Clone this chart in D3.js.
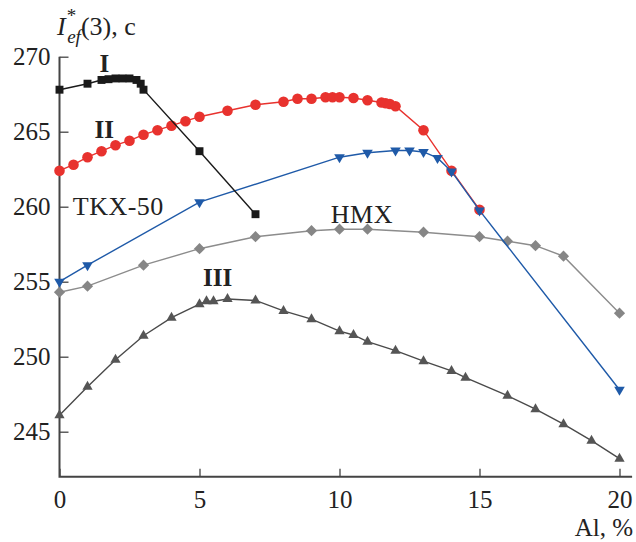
<!DOCTYPE html>
<html>
<head>
<meta charset="utf-8">
<script src="https://cdn.jsdelivr.net/npm/d3@7"></script>
<style>
  body { margin: 0; background: #fff; }
  text { font-family: "Liberation Serif", "DejaVu Serif", serif; fill: #222; }
</style>
</head>
<body>
<div id="container"></div>
<script>
// Data: Al content (%) and I_ef*(3), s.
const xI = [0, 1, 1.5, 1.75, 2, 2.25, 2.5, 2.75, 2.9, 3, 5, 7];
const yI = [267.8, 268.2, 268.45, 268.5, 268.55, 268.55, 268.55, 268.45, 268.2, 267.8, 263.7, 259.5];

const xII = [0, 0.5, 1, 1.5, 2, 2.5, 3, 3.5, 4, 4.5, 5, 6, 7, 8, 8.5, 9, 9.5, 9.75, 10, 10.5, 11, 11.5, 11.65, 11.8, 12, 13, 14, 15];
const yII = [262.4, 262.8, 263.3, 263.7, 264.1, 264.4, 264.8, 265.1, 265.4, 265.7, 266.0, 266.4, 266.8, 267.0, 267.2, 267.2, 267.3, 267.3, 267.3, 267.25, 267.1, 266.95, 266.9, 266.85, 266.7, 265.1, 262.4, 259.8];

const xTKX = [0, 1, 5, 10, 11, 12, 12.5, 13, 13.5, 14, 15, 20];
const yTKX = [255.0, 256.1, 260.3, 263.3, 263.6, 263.75, 263.75, 263.65, 263.25, 262.35, 259.75, 247.8];

const xHMX = [0, 1, 3, 5, 7, 9, 10, 11, 13, 15, 16, 17, 18, 20];
const yHMX = [254.3, 254.7, 256.1, 257.2, 258.0, 258.4, 258.5, 258.5, 258.3, 258.0, 257.7, 257.4, 256.7, 252.9];

const xIII = [0, 1, 2, 3, 4, 5, 5.25, 5.5, 6, 7, 8, 9, 10, 10.5, 11, 12, 13, 14, 14.5, 16, 17, 18, 19, 20];
const yIII = [246.1, 248.0, 249.8, 251.4, 252.6, 253.5, 253.7, 253.7, 253.85, 253.75, 253.05, 252.5, 251.7, 251.45, 251.0, 250.4, 249.7, 249.05, 248.6, 247.4, 246.5, 245.5, 244.4, 243.2];

const xTicks = [0, 5, 10, 15, 20];
const yTicks = [245, 250, 255, 260, 265, 270];

const width = 636, height = 542;

const svg = d3.select('#container')
  .append('svg')
  .attr('width', width)
  .attr('height', height);

// Scales.
const x = d3.scaleLinear().domain([0, 20]).range([59.5, 619.5]);
const y = d3.scaleLinear().domain([242, 270]).range([476.7, 56.7]);

const axisColor = '#444';

// Axes (ticks point inward).
const gx = svg.append('g')
  .attr('transform', `translate(0, ${y(242)})`)
  .call(d3.axisBottom(x).tickValues(xTicks).tickSize(-8).tickPadding(14).tickFormat(d3.format('d')));
gx.select('.domain').remove();
gx.selectAll('line').attr('stroke', axisColor).attr('stroke-width', 1.3);
gx.selectAll('text').attr('font-size', 25).attr('font-family', '"Liberation Serif", serif').attr('fill', '#222');

const gy = svg.append('g')
  .attr('transform', `translate(${x(0)}, 0)`)
  .call(d3.axisLeft(y).tickValues(yTicks).tickSize(-9).tickPadding(9).tickFormat(d3.format('d')));
gy.select('.domain').remove();
gy.selectAll('line').attr('stroke', axisColor).attr('stroke-width', 1.3);
gy.selectAll('text').attr('font-size', 25).attr('font-family', '"Liberation Serif", serif').attr('fill', '#222');

// Axis lines.
svg.append('path')
  .attr('d', `M${x(0)},${y(270)}V${y(242)}H${x(20.45)}`)
  .attr('fill', 'none')
  .attr('stroke', axisColor)
  .attr('stroke-width', 2);

// Series.
const series = [
  { xs: xHMX, ys: yHMX, line: '#8c8c8c', fill: '#868686', symbol: d3.symbolDiamond2, size: 80, rot: 0 },
  { xs: xIII, ys: yIII, line: '#4a4a4a', fill: '#555555', symbol: d3.symbolTriangle2, size: 75, rot: 0 },
  { xs: xII, ys: yII, line: '#e8322e', fill: '#e8322e', symbol: d3.symbolCircle, size: 88, rot: 0 },
  { xs: xTKX, ys: yTKX, line: '#1f5aa8', fill: '#1f5aa8', symbol: d3.symbolTriangle2, size: 80, rot: 180 },
  { xs: xI, ys: yI, line: '#1a1a1a', fill: '#1a1a1a', symbol: d3.symbolSquare2, size: 80, rot: 0 }
];

const line = d3.line().x(d => x(d[0])).y(d => y(d[1]));

series.forEach(s => {
  const pts = s.xs.map((v, i) => [v, s.ys[i]]);
  const g = svg.append('g');
  g.append('path')
    .datum(pts)
    .attr('d', line)
    .attr('fill', 'none')
    .attr('stroke', s.line)
    .attr('stroke-width', 1.4);
  g.selectAll('path.pt')
    .data(pts)
    .enter()
    .append('path')
    .attr('class', 'pt')
    .attr('d', d3.symbol().type(s.symbol).size(s.size))
    .attr('transform', d => `translate(${x(d[0])} ${y(d[1])}) rotate(${s.rot})`)
    .attr('fill', s.fill);
});

// Series labels.
const labels = [
  { t: 'I', x: 1.6, y: 268.95, bold: true, size: 25, ls: 0 },
  { t: 'II', x: 1.6, y: 264.6, bold: true, size: 25, ls: 0 },
  { t: 'III', x: 5.65, y: 254.7, bold: true, size: 25, ls: 0 },
  { t: 'TKX-50', x: 2.1, y: 259.45, bold: false, size: 26, ls: 0.5 },
  { t: 'HMX', x: 10.8, y: 258.9, bold: false, size: 26, ls: 0.5 }
];
svg.append('g')
  .selectAll('text')
  .data(labels)
  .enter()
  .append('text')
  .attr('x', d => x(d.x))
  .attr('y', d => y(d.y))
  .attr('text-anchor', 'middle')
  .attr('font-size', d => d.size)
  .attr('letter-spacing', d => d.ls)
  .attr('font-weight', d => d.bold ? 'bold' : 'normal')
  .text(d => d.t);

// Axis titles.
const yTitle = svg.append('text')
  .attr('x', 57)
  .attr('y', 35)
  .attr('font-size', 26);
yTitle.append('tspan').attr('font-style', 'italic').text('I');
yTitle.append('tspan').attr('font-size', 19).attr('dy', -13).attr('dx', 1).text('*');
yTitle.append('tspan').attr('font-size', 19).attr('font-style', 'italic').attr('dx', -9).attr('dy', 21).text('ef');
yTitle.append('tspan').attr('dy', -8).text('(3), c');

svg.append('text')
  .attr('x', 633)
  .attr('y', 536)
  .attr('text-anchor', 'end')
  .attr('font-size', 25)
  .text('Al, %');
</script>
</body>
</html>
